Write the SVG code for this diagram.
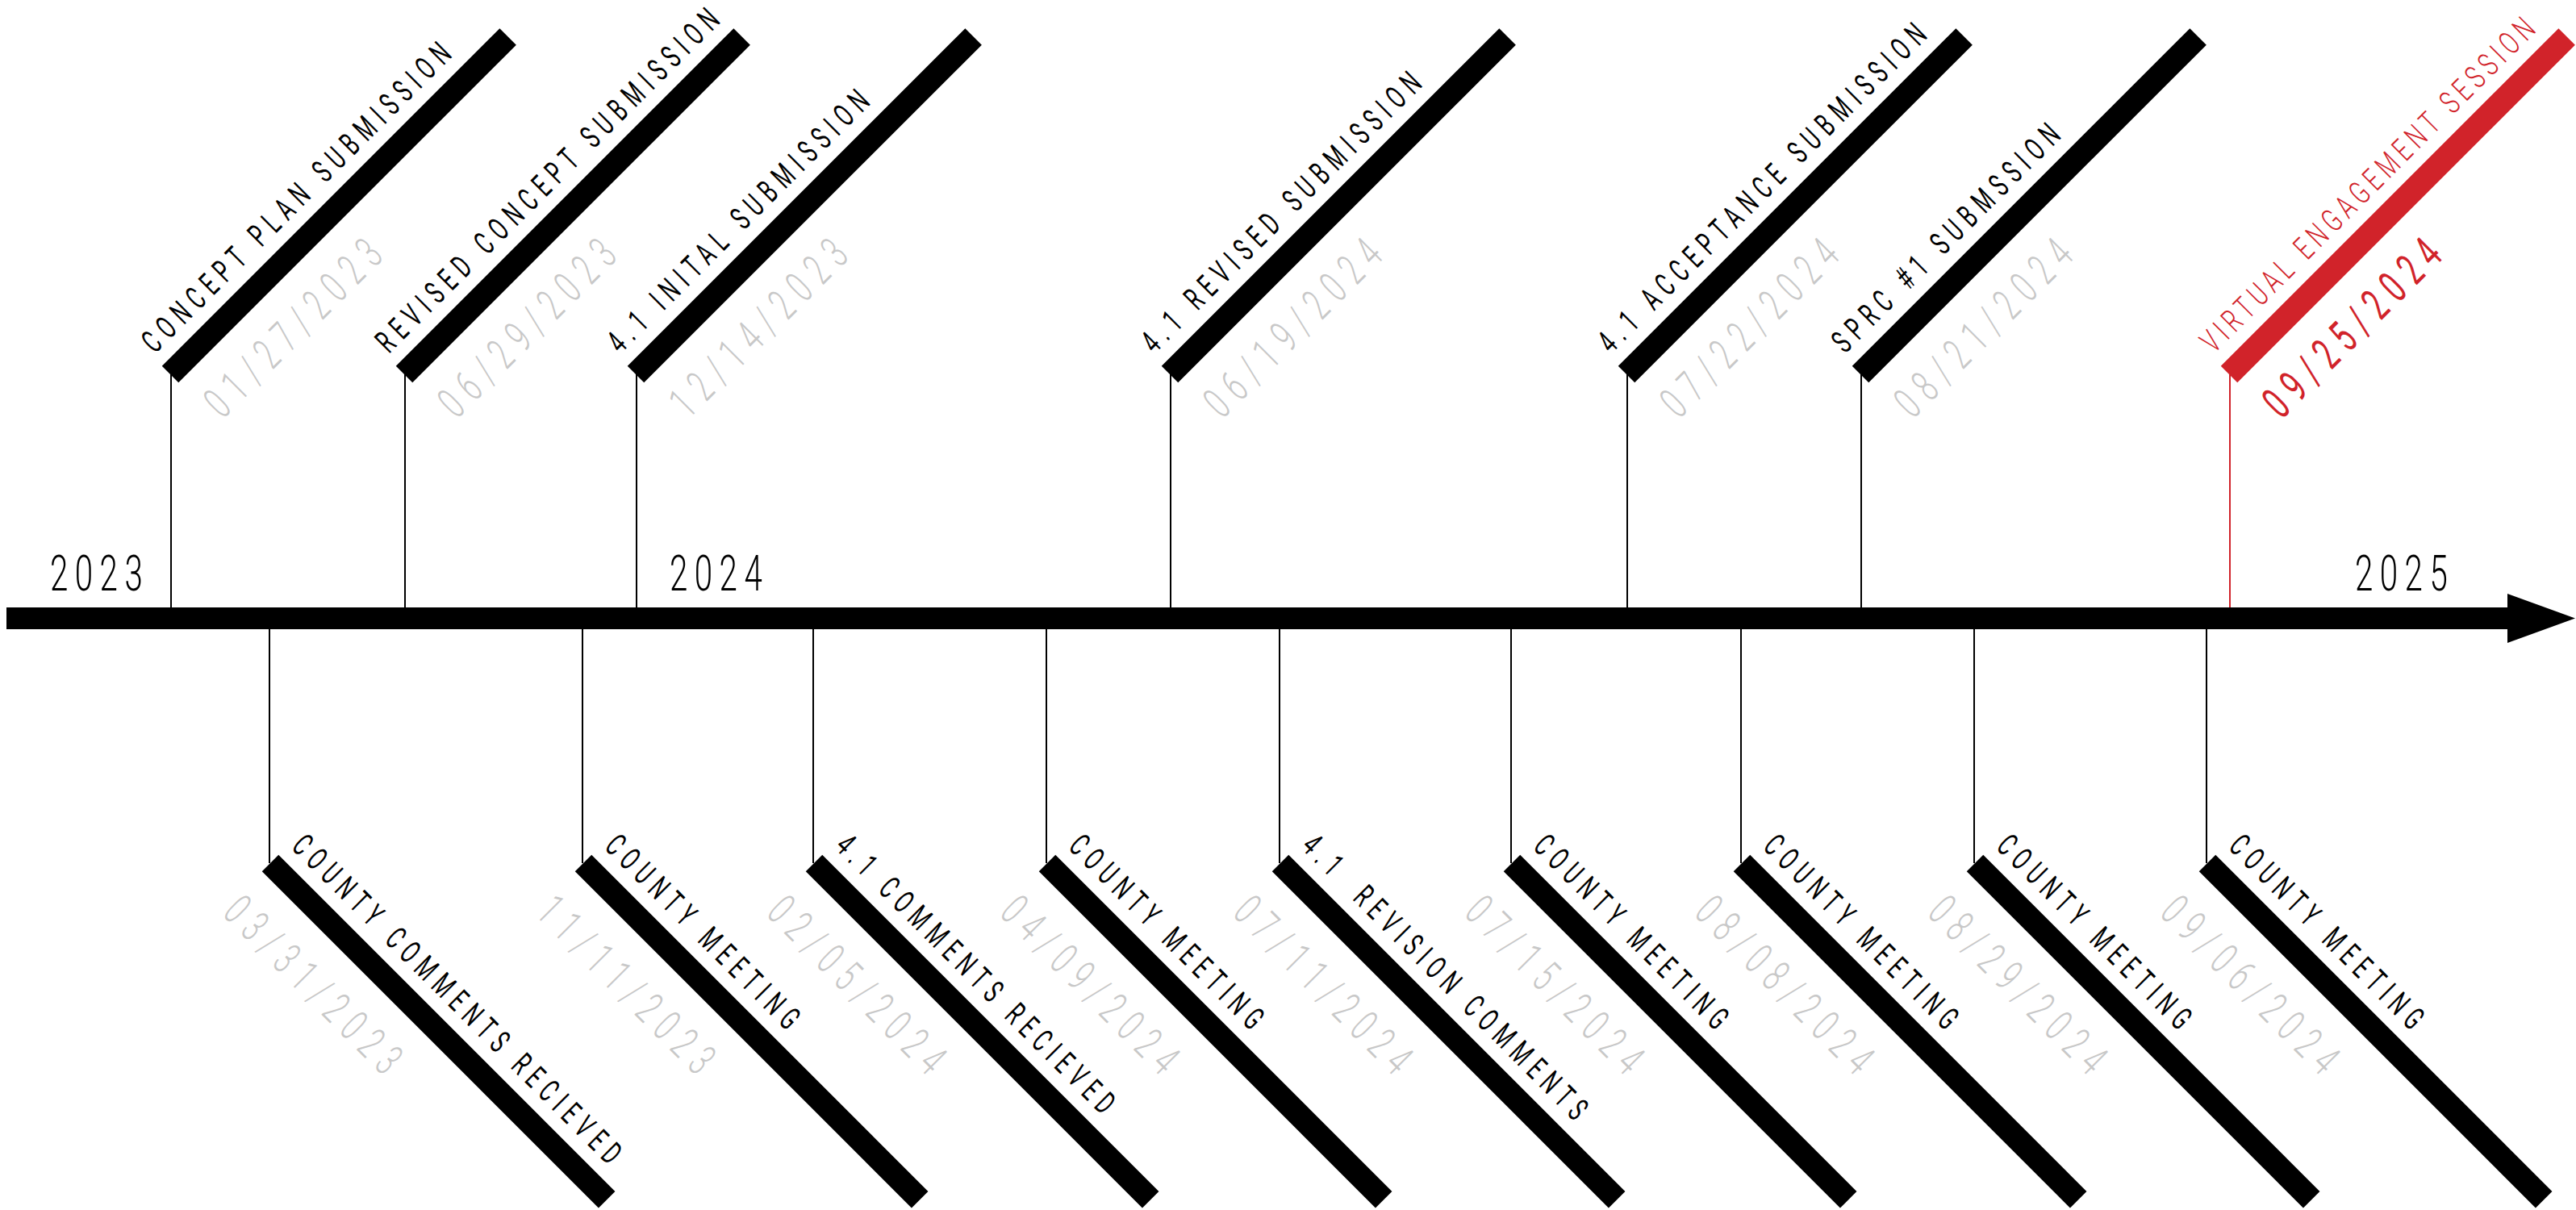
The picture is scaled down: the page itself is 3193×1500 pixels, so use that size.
<svg xmlns="http://www.w3.org/2000/svg" width="3193" height="1500" viewBox="0 0 3193 1500">
<style>
text{font-family:Roboto,"Liberation Sans",sans-serif;font-weight:300}
.bar{fill:#000}
.rbar{fill:#d1232a}
.lbl{font-size:40px;letter-spacing:14px;fill:#000;font-weight:400}
.rlbl{font-size:40px;letter-spacing:9.5px;fill:#d1232a}
.date{font-size:55px;letter-spacing:19px;fill:#c8c8c8}
.rdate{font-size:56px;letter-spacing:18px;fill:#d1232a;font-weight:400}
.yr{font-size:62px;letter-spacing:13px;fill:#000}
.tick{stroke:#000;stroke-width:2;fill:none}
.rtick{stroke:#d1232a;stroke-width:2;fill:none}
</style>
<rect width="3193" height="1500" fill="#fff"/>
<g id="connectors">
<path id="axis" d="M8,753 H3108 V736 L3192,766.5 L3108,797 V780 H8 Z" fill="#000"/>
<path class="tick" d="M212,464V753 M502,464V753 M789,464V753 M1451,464V753 M2017,464V753 M2307,464V753"/>
<path class="rtick" d="M2764,464V753"/>
<path class="tick" d="M334,780V1070 M722,780V1070 M1008,780V1070 M1297,780V1070 M1586,780V1070 M1873,780V1070 M2158,780V1070 M2447,780V1070 M2735,780V1070"/>
</g>
<g id="years">
<text class="yr" transform="translate(62,732) scale(0.65,1)">2023</text>
<text class="yr" transform="translate(830,732) scale(0.65,1)">2024</text>
<text class="yr" transform="translate(2919,732) scale(0.65,1)">2025</text>
</g>
<g id="ev-concept-plan">
<rect class="bar" x="0" y="-14.5" width="592" height="29" transform="translate(211,464) rotate(-45)"/>
<text class="lbl" transform="translate(192,439.3) rotate(-45) scale(0.62,1)">CONCEPT PLAN SUBMISSION</text>
<text class="date" transform="translate(276,520.6) rotate(-45) scale(0.62,1)">01/27/2023</text>
</g>
<g id="ev-revised-concept">
<rect class="bar" x="0" y="-14.5" width="592" height="29" transform="translate(501,464) rotate(-45)"/>
<text class="lbl" transform="translate(482,439.3) rotate(-45) scale(0.62,1)">REVISED CONCEPT SUBMISSION</text>
<text class="date" transform="translate(566,520.6) rotate(-45) scale(0.62,1)">06/29/2023</text>
</g>
<g id="ev-41-initial">
<rect class="bar" x="0" y="-14.5" width="592" height="29" transform="translate(788,464) rotate(-45)"/>
<text class="lbl" transform="translate(769,439.3) rotate(-45) scale(0.62,1)">4.1 INITAL SUBMISSION</text>
<text class="date" transform="translate(853,520.6) rotate(-45) scale(0.62,1)">12/14/2023</text>
</g>
<g id="ev-41-revised">
<rect class="bar" x="0" y="-14.5" width="592" height="29" transform="translate(1450,464) rotate(-45)"/>
<text class="lbl" transform="translate(1431,439.3) rotate(-45) scale(0.62,1)">4.1 REVISED SUBMISSION</text>
<text class="date" transform="translate(1515,520.6) rotate(-45) scale(0.62,1)">06/19/2024</text>
</g>
<g id="ev-41-acceptance">
<rect class="bar" x="0" y="-14.5" width="592" height="29" transform="translate(2016,464) rotate(-45)"/>
<text class="lbl" transform="translate(1997,439.3) rotate(-45) scale(0.62,1)">4.1 ACCEPTANCE SUBMISSION</text>
<text class="date" transform="translate(2081,520.6) rotate(-45) scale(0.62,1)">07/22/2024</text>
</g>
<g id="ev-sprc1">
<rect class="bar" x="0" y="-14.5" width="592" height="29" transform="translate(2306,464) rotate(-45)"/>
<text class="lbl" transform="translate(2287,439.3) rotate(-45) scale(0.62,1)">SPRC #1 SUBMSSION</text>
<text class="date" transform="translate(2371,520.6) rotate(-45) scale(0.62,1)">08/21/2024</text>
</g>
<g id="ev-virtual-engagement">
<rect class="rbar" x="0" y="-14.5" width="592" height="29" transform="translate(2763,464) rotate(-45)"/>
<text class="rlbl" transform="translate(2744,439.3) rotate(-45) scale(0.68,1)">VIRTUAL ENGAGEMENT SESSION</text>
<text class="rdate" transform="translate(2828,521) rotate(-45) scale(0.62,1)">09/25/2024</text>
</g>
<g id="ev-county-comments">
<rect class="bar" x="0" y="-14.5" width="590" height="29" transform="translate(335,1070) rotate(45)"/>
<text class="lbl" transform="translate(359.7,1050.9) rotate(45) scale(0.62,1)">COUNTY COMMENTS RECIEVED</text>
<text class="date" transform="translate(274.2,1133.6) rotate(45) scale(0.62,1)">03/31/2023</text>
</g>
<g id="ev-county-meeting-1">
<rect class="bar" x="0" y="-14.5" width="590" height="29" transform="translate(723,1070) rotate(45)"/>
<text class="lbl" transform="translate(747.7,1050.9) rotate(45) scale(0.62,1)">COUNTY MEETING</text>
<text class="date" transform="translate(662.2,1133.6) rotate(45) scale(0.62,1)">11/11/2023</text>
</g>
<g id="ev-41-comments">
<rect class="bar" x="0" y="-14.5" width="590" height="29" transform="translate(1009,1070) rotate(45)"/>
<text class="lbl" transform="translate(1033.7,1050.9) rotate(45) scale(0.62,1)">4.1 COMMENTS RECIEVED</text>
<text class="date" transform="translate(948.2,1133.6) rotate(45) scale(0.62,1)">02/05/2024</text>
</g>
<g id="ev-county-meeting-2">
<rect class="bar" x="0" y="-14.5" width="590" height="29" transform="translate(1298,1070) rotate(45)"/>
<text class="lbl" transform="translate(1322.7,1050.9) rotate(45) scale(0.62,1)">COUNTY MEETING</text>
<text class="date" transform="translate(1237.2,1133.6) rotate(45) scale(0.62,1)">04/09/2024</text>
</g>
<g id="ev-41-revision-comments">
<rect class="bar" x="0" y="-14.5" width="590" height="29" transform="translate(1587,1070) rotate(45)"/>
<text class="lbl" xml:space="preserve" transform="translate(1611.7,1050.9) rotate(45) scale(0.62,1)">4.1  REVISION COMMENTS</text>
<text class="date" transform="translate(1526.2,1133.6) rotate(45) scale(0.62,1)">07/11/2024</text>
</g>
<g id="ev-county-meeting-3">
<rect class="bar" x="0" y="-14.5" width="590" height="29" transform="translate(1874,1070) rotate(45)"/>
<text class="lbl" transform="translate(1898.7,1050.9) rotate(45) scale(0.62,1)">COUNTY MEETING</text>
<text class="date" transform="translate(1813.2,1133.6) rotate(45) scale(0.62,1)">07/15/2024</text>
</g>
<g id="ev-county-meeting-4">
<rect class="bar" x="0" y="-14.5" width="590" height="29" transform="translate(2159,1070) rotate(45)"/>
<text class="lbl" transform="translate(2183.7,1050.9) rotate(45) scale(0.62,1)">COUNTY MEETING</text>
<text class="date" transform="translate(2098.2,1133.6) rotate(45) scale(0.62,1)">08/08/2024</text>
</g>
<g id="ev-county-meeting-5">
<rect class="bar" x="0" y="-14.5" width="590" height="29" transform="translate(2448,1070) rotate(45)"/>
<text class="lbl" transform="translate(2472.7,1050.9) rotate(45) scale(0.62,1)">COUNTY MEETING</text>
<text class="date" transform="translate(2387.2,1133.6) rotate(45) scale(0.62,1)">08/29/2024</text>
</g>
<g id="ev-county-meeting-6">
<rect class="bar" x="0" y="-14.5" width="590" height="29" transform="translate(2736,1070) rotate(45)"/>
<text class="lbl" transform="translate(2760.7,1050.9) rotate(45) scale(0.62,1)">COUNTY MEETING</text>
<text class="date" transform="translate(2675.2,1133.6) rotate(45) scale(0.62,1)">09/06/2024</text>
</g>
</svg>
